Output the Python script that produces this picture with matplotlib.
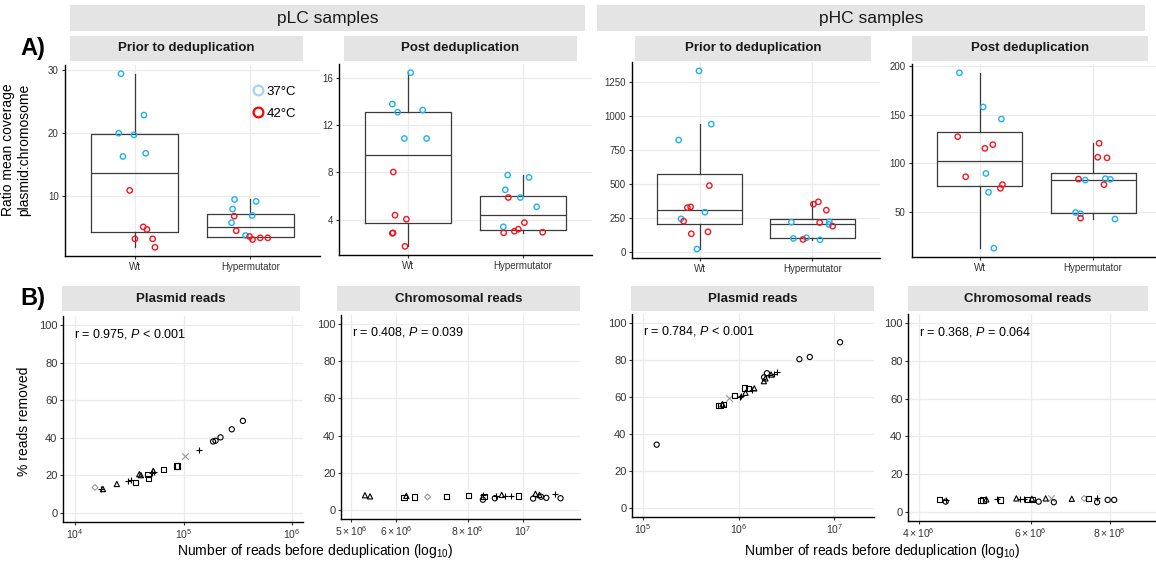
import matplotlib
matplotlib.use("Agg")
import numpy as np
import matplotlib.pyplot as plt
from matplotlib.patches import Rectangle
from matplotlib.lines import Line2D
from matplotlib.ticker import FixedLocator, NullLocator

plt.rcParams['font.family'] = ['Liberation Sans', 'DejaVu Sans']
plt.rcParams['mathtext.fontset'] = 'custom'
plt.rcParams['mathtext.rm'] = 'Liberation Sans'
plt.rcParams['mathtext.it'] = 'Liberation Sans:italic'

# ---------------------------------------------------------------------------
# A) ratio of mean coverage plasmid:chromosome (12 samples per group)
# ---------------------------------------------------------------------------
groups = ["Wt", "Hypermutator"]

# pLC, prior to deduplication
plc_prior_wt_37 = [29.46, 22.87, 20.0, 19.73, 16.29, 16.8]
plc_prior_wt_42 = [10.9, 5.1, 4.7, 3.2, 3.2, 1.85]
plc_prior_hm_37 = [9.47, 9.15, 7.93, 6.92, 5.76, 3.73]
plc_prior_hm_42 = [6.8, 4.48, 3.57, 3.09, 3.36, 3.36]

# pLC, post deduplication
plc_post_wt_37 = [16.45, 13.79, 13.1, 13.28, 10.87, 10.87]
plc_post_wt_42 = [8.03, 4.37, 4.03, 2.84, 2.87, 1.73]
plc_post_hm_37 = [7.77, 7.57, 6.52, 5.87, 5.08, 3.38]
plc_post_hm_42 = [5.87, 3.74, 3.18, 3.01, 2.87, 2.92]

# pHC, prior to deduplication
phc_prior_wt_37 = [1330.7, 939, 822, 291, 242, 19.6]
phc_prior_wt_42 = [486.8, 325, 330, 225, 132, 147]
phc_prior_hm_37 = [218, 220, 200.6, 98, 103, 88]
phc_prior_hm_42 = [350, 367, 306, 215, 188, 90.5]

# pHC, post deduplication
phc_post_wt_37 = [193.2, 158, 145.5, 89.5, 70.1, 12.5]
phc_post_wt_42 = [127.4, 115.4, 119.2, 86.1, 74.2, 78]
phc_post_hm_37 = [82.7, 84.1, 83.4, 49.3, 48, 42.5]
phc_post_hm_42 = [120.6, 106.2, 105.6, 83.7, 78, 43.5]

# horizontal jitter (fraction of category spacing)
jit_plc_prior_wt_37 = [-0.117, 0.081, -0.137, -0.005, -0.1, 0.096]
jit_plc_prior_wt_42 = [-0.042, 0.075, 0.107, 0.003, 0.156, 0.176]
jit_plc_prior_hm_37 = [-0.137, 0.049, -0.154, 0.015, -0.163, -0.042]
jit_plc_prior_hm_42 = [-0.14, -0.123, -0.008, 0.018, 0.084, 0.15]
jit_plc_post_wt_37 = [0.023, -0.136, -0.09, 0.128, -0.032, 0.162]
jit_plc_post_wt_42 = [-0.128, -0.113, -0.014, -0.136, -0.13, -0.026]
jit_plc_post_hm_37 = [-0.133, 0.052, -0.154, -0.023, 0.119, -0.171]
jit_plc_post_hm_42 = [-0.128, 0.012, -0.041, -0.075, -0.168, 0.171]
jit_phc_prior_wt_37 = [-0.006, 0.103, -0.186, 0.047, -0.165, -0.024]
jit_phc_prior_wt_42 = [0.086, -0.109, -0.08, -0.142, -0.074, 0.074]
jit_phc_prior_hm_37 = [-0.186, 0.15, 0.147, -0.168, -0.053, 0.068]
jit_phc_prior_hm_42 = [0.009, 0.053, 0.124, 0.065, 0.18, -0.083]
jit_phc_post_wt_37 = [-0.181, 0.029, 0.19, 0.053, 0.076, 0.123]
jit_phc_post_wt_42 = [-0.196, 0.044, 0.114, -0.126, 0.181, 0.199]
jit_phc_post_hm_37 = [-0.07, 0.108, 0.152, -0.155, -0.111, 0.193]
jit_phc_post_hm_42 = [0.053, 0.041, 0.123, -0.129, 0.096, -0.111]

# ---------------------------------------------------------------------------
# B) % reads removed vs number of reads before deduplication
# shape codes: o circle, ^ triangle, s square, + plus, x cross (grey), d diamond (grey)
# ---------------------------------------------------------------------------
plc_plasmid_reads = [1.53e4, 1.74e4, 1.81e4, 2.43e4, 3.10e4, 3.27e4, 3.60e4, 3.91e4,
                     4.05e4, 4.70e4, 4.73e4, 5.08e4, 5.26e4, 5.37e4, 6.59e4, 8.57e4,
                     8.81e4, 1.03e5, 1.40e5, 1.87e5, 1.97e5, 2.19e5, 2.78e5, 3.52e5]
plc_plasmid_removed = [13.5, 12.4, 12.6, 15.3, 17.1, 17.5, 16.2, 20.5,
                       20.0, 20.2, 18.4, 21.4, 22.3, 21.8, 23.0, 24.9,
                       24.9, 30.1, 33.3, 38.0, 38.4, 40.2, 44.5, 49.0]
plc_plasmid_shape = "d+^^++s^^ss+^+sssx+ooooo"

plc_chrom_reads = [5.29e6, 5.40e6, 6.19e6, 6.25e6, 6.46e6, 6.81e6, 7.35e6, 8.02e6,
                   8.51e6, 8.55e6, 8.51e6, 8.99e6, 8.93e6, 9.18e6, 9.31e6, 9.55e6,
                   9.82e6, 1.042e7, 1.052e7, 1.069e7, 1.076e7, 1.099e7, 1.140e7, 1.164e7]
plc_chrom_removed = [7.8, 7.2, 6.6, 7.5, 6.9, 6.9, 7.2, 7.6,
                     7.9, 7.2, 5.4, 7.2, 6.2, 8.0, 7.2, 7.2,
                     7.4, 6.0, 8.6, 8.0, 7.0, 6.4, 8.6, 6.2]
plc_chrom_shape = "^^s^sdss+so+o^++so^^oo+o"

phc_plasmid_reads = [1.39e5, 6.22e5, 6.47e5, 6.79e5, 6.95e5, 7.93e5, 9.06e5, 1.03e6,
                     1.07e6, 1.18e6, 1.15e6, 1.27e6, 1.46e6, 1.39e6, 1.84e6, 1.85e6,
                     1.91e6, 1.98e6, 2.06e6, 2.19e6, 2.34e6, 2.51e6, 4.33e6, 5.56e6, 1.153e7]
phc_plasmid_removed = [34.2, 55.3, 55.6, 56.1, 55.8, 59.6, 60.8, 60.2,
                       60.8, 62.3, 64.9, 64.7, 64.7, 64.0, 68.6, 70.7,
                       70.1, 72.9, 71.9, 72.2, 72.4, 73.8, 80.5, 81.7, 89.7]
phc_plasmid_shape = "oss^sxs++^ss^+^o^o+^++ooo"

phc_chrom_reads = [4.31e6, 4.41e6, 4.41e6, 5.05e6, 5.01e6, 5.11e6, 5.31e6, 5.38e6,
                   5.70e6, 5.77e6, 5.86e6, 5.94e6, 6.03e6, 6.04e6, 6.18e6, 6.34e6,
                   6.47e6, 6.53e6, 6.97e6, 7.29e6, 7.40e6, 7.64e6, 7.64e6, 7.94e6, 8.13e6]
phc_chrom_removed = [6.3, 6.3, 5.3, 6.2, 6.1, 6.5, 6.8, 6.2,
                     7.0, 6.5, 6.5, 6.5, 6.8, 6.3, 5.3, 7.0,
                     7.0, 5.0, 6.8, 7.0, 6.8, 7.0, 5.0, 6.2, 6.2]
phc_chrom_shape = "s+oss^+s^++s^so^xo^ds+ooo"

stats_labels = [r"r = 0.975, $\it{P}$ < 0.001", r"r = 0.408, $\it{P}$ = 0.039",
                r"r = 0.784, $\it{P}$ < 0.001", r"r = 0.368, $\it{P}$ = 0.064"]

W, H = 1156, 562
BLUE = '#1DB1F0'
RED = '#F5141E'
STRIP = '#E4E4E4'
GRID = '#EBEBEB'


def px_rect(l, t, r, b):
    return [l / W, 1 - b / H, (r - l) / W, (b - t) / H]


def strip(fig, l, t, r, b, text, size=9.5, bold=True):
    fig.add_artist(Rectangle((l / W, 1 - b / H), (r - l) / W, (b - t) / H,
                             transform=fig.transFigure, facecolor=STRIP,
                             edgecolor='none', zorder=0))
    fig.text((l + r) / 2 / W, 1 - (t + b) / 2 / H, text, ha='center', va='center',
             fontsize=size, fontweight='bold' if bold else 'normal', color='#1A1A1A')


def style_axes(ax, labelsize, pad=2):
    for s in ['top', 'right']:
        ax.spines[s].set_visible(False)
    for s in ['left', 'bottom']:
        ax.spines[s].set_linewidth(1.0)
        ax.spines[s].set_color('black')
    ax.grid(True, color=GRID, linewidth=0.9)
    ax.set_axisbelow(True)
    ax.tick_params(axis='both', which='major', length=2.5, width=0.8, color='#333333',
                   labelsize=labelsize, labelcolor='#333333', pad=pad)
    ax.tick_params(axis='both', which='minor', length=0)


def box_panel(ax, data, yticks):
    wt37, wt42, hm37, hm42, jw37, jw42, jh37, jh42 = data
    wt = wt37 + wt42
    hm = hm37 + hm42
    ax.boxplot([wt, hm], positions=[1, 2], widths=0.75, whis=1.5, showfliers=False,
               showcaps=False,
               boxprops=dict(color='#3A3A3A', linewidth=0.9),
               whiskerprops=dict(color='#3A3A3A', linewidth=0.9),
               medianprops=dict(color='#3A3A3A', linewidth=0.9))
    for pos, vals, jit, col in [(1, wt37, jw37, BLUE), (1, wt42, jw42, RED),
                                (2, hm37, jh37, BLUE), (2, hm42, jh42, RED)]:
        ax.scatter(np.array(jit) + pos, vals, s=15, facecolors='none',
                   edgecolors=col, linewidths=1.0, zorder=3)
    lo, hi = min(wt + hm), max(wt + hm)
    pad = 0.05 * (hi - lo)
    ax.set_ylim(lo - pad, hi + pad)
    ax.set_xlim(0.4, 2.6)
    ax.set_xticks([1, 2])
    ax.set_xticklabels(groups)
    ax.set_yticks(yticks)
    style_axes(ax, 7)


def scatter_panel(ax, xs, ys, shapes, xlim, ticks, ticklabels, label):
    marker_map = {'o': 'o', '^': '^', 's': 's', '+': '+', 'x': 'x', 'd': 'D'}
    for code in set(shapes):
        idx = [i for i, c in enumerate(shapes) if c == code]
        col = '#9A9A9A' if code in 'xd' else 'black'
        size = 9 if code == 'd' else 14
        if code in '+x':
            ax.scatter([xs[i] for i in idx], [ys[i] for i in idx], s=22,
                       marker=marker_map[code], color=col, linewidths=0.8, zorder=3)
        else:
            ax.scatter([xs[i] for i in idx], [ys[i] for i in idx], s=size,
                       marker=marker_map[code], facecolors='none', edgecolors=col,
                       linewidths=0.8, zorder=3)
    ax.set_xscale('log')
    ax.set_xlim(10 ** xlim[0], 10 ** xlim[1])
    ax.xaxis.set_major_locator(FixedLocator(ticks))
    ax.xaxis.set_minor_locator(NullLocator())
    ax.set_xticklabels(ticklabels)
    ax.set_ylim(-5, 105)
    ax.set_yticks([0, 20, 40, 60, 80, 100])
    style_axes(ax, 8, pad=1.5)
    ax.tick_params(axis='x', labelsize=7.5, pad=1)
    ax.text(0.045, 0.915, label, transform=ax.transAxes, ha='left', va='center',
            fontsize=9, color='black')


def main():
    fig = plt.figure(figsize=(W / 100, H / 100), dpi=100)

    # top strips
    strip(fig, 70, 5, 585, 31, "pLC samples", size=12.5, bold=False)
    strip(fig, 597, 5, 1145, 31, "pHC samples", size=12.5, bold=False)

    # ---- A) box plots
    a_rects = [(65, 65, 320, 256), (339, 64, 592, 255), (632, 62, 880, 258), (912, 64, 1161, 257)]
    a_strips = [(70, 36, 303, 61), (344, 36, 577, 61), (635, 36, 871, 61), (912, 36, 1148, 61)]
    a_titles = ["Prior to deduplication", "Post deduplication",
                "Prior to deduplication", "Post deduplication"]
    a_data = [
        (plc_prior_wt_37, plc_prior_wt_42, plc_prior_hm_37, plc_prior_hm_42,
         jit_plc_prior_wt_37, jit_plc_prior_wt_42, jit_plc_prior_hm_37, jit_plc_prior_hm_42),
        (plc_post_wt_37, plc_post_wt_42, plc_post_hm_37, plc_post_hm_42,
         jit_plc_post_wt_37, jit_plc_post_wt_42, jit_plc_post_hm_37, jit_plc_post_hm_42),
        (phc_prior_wt_37, phc_prior_wt_42, phc_prior_hm_37, phc_prior_hm_42,
         jit_phc_prior_wt_37, jit_phc_prior_wt_42, jit_phc_prior_hm_37, jit_phc_prior_hm_42),
        (phc_post_wt_37, phc_post_wt_42, phc_post_hm_37, phc_post_hm_42,
         jit_phc_post_wt_37, jit_phc_post_wt_42, jit_phc_post_hm_37, jit_phc_post_hm_42),
    ]
    a_ticks = [[10, 20, 30], [4, 8, 12, 16], [0, 250, 500, 750, 1000, 1250], [50, 100, 150, 200]]

    for rect, st, title, data, yt in zip(a_rects, a_strips, a_titles, a_data, a_ticks):
        strip(fig, *st, title)
        ax = fig.add_axes(px_rect(*rect))
        box_panel(ax, data, yt)

    # legend in first panel
    handles = [Line2D([], [], marker='o', linestyle='none', markersize=7,
                      markerfacecolor='none', markeredgecolor='#A3D5EC', markeredgewidth=1.6),
               Line2D([], [], marker='o', linestyle='none', markersize=7,
                      markerfacecolor='none', markeredgecolor='#FF0000', markeredgewidth=1.6)]
    fig.legend(handles, ["37°C", "42°C"], loc='upper left',
               bbox_to_anchor=(243 / W, 1 - 79 / H), frameon=False, fontsize=9.5,
               handletextpad=0.1, labelspacing=0.75, handlelength=1.2, borderpad=0)

    fig.text(16 / W, 1 - 150 / H, "Ratio mean coverage\nplasmid:chromosome", rotation=90,
             ha='center', va='center', fontsize=10, linespacing=1.15)

    # ---- B) scatter plots
    b_rects = [(63, 316, 303, 522), (341, 315, 580, 519), (632, 314, 874, 517), (908, 314, 1156, 521)]
    b_strips = [(62, 286, 300, 311), (337, 286, 580, 311), (631, 286, 874, 311), (908, 286, 1148, 311)]
    b_titles = ["Plasmid reads", "Chromosomal reads", "Plasmid reads", "Chromosomal reads"]
    b_xs = [plc_plasmid_reads, plc_chrom_reads, phc_plasmid_reads, phc_chrom_reads]
    b_ys = [plc_plasmid_removed, plc_chrom_removed, phc_plasmid_removed, phc_chrom_removed]
    b_shapes = [plc_plasmid_shape, plc_chrom_shape, phc_plasmid_shape, phc_chrom_shape]
    b_xlims = [(3.89, 6.10), (6.6815, 7.10), (4.885, 7.417), (6.585, 6.976)]
    b_ticks = [[1e4, 1e5, 1e6], [5e6, 6e6, 8e6, 1e7], [1e5, 1e6, 1e7], [4e6, 6e6, 8e6]]
    b_ticklabels = [[r"$10^{4}$", r"$10^{5}$", r"$10^{6}$"],
                    [r"$5\times10^{6}$", r"$6\times10^{6}$", r"$8\times10^{6}$", r"$10^{7}$"],
                    [r"$10^{5}$", r"$10^{6}$", r"$10^{7}$"],
                    [r"$4\times10^{6}$", r"$6\times10^{6}$", r"$8\times10^{6}$"]]

    for i in range(4):
        strip(fig, *b_strips[i], b_titles[i])
        ax = fig.add_axes(px_rect(*b_rects[i]))
        scatter_panel(ax, b_xs[i], b_ys[i], b_shapes[i], b_xlims[i], b_ticks[i],
                      b_ticklabels[i], stats_labels[i])

    fig.text(24 / W, 1 - 421 / H, "% reads removed", rotation=90, ha='center',
             va='center', fontsize=10)
    xlab = r"Number of reads before deduplication (log$_{10}$)"
    fig.text(315 / W, 1 - 551 / H, xlab, ha='center', va='center', fontsize=10)
    fig.text(882 / W, 1 - 551 / H, xlab, ha='center', va='center', fontsize=10)

    # panel letters
    fig.text(20 / W, 1 - 48 / H, "A)", ha='left', va='center', fontsize=17, fontweight='bold')
    fig.text(20 / W, 1 - 298 / H, "B)", ha='left', va='center', fontsize=17, fontweight='bold')

    fig.savefig("out.png", dpi=100)


if __name__ == "__main__":
    main()
